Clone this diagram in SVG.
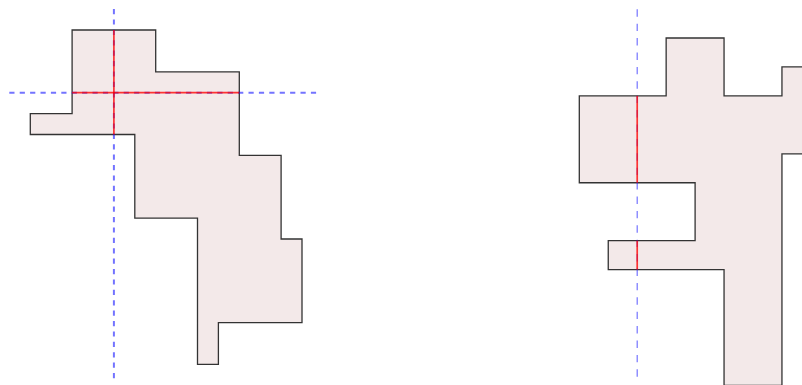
<svg xmlns="http://www.w3.org/2000/svg" width="802" height="385" viewBox="0 0 802 385">
  <style>
    .shape { fill: #f3e9e9; stroke: #333333; stroke-width: 1.3; stroke-linejoin: miter; }
    .axis { fill: none; stroke: #0000ff; stroke-opacity: 0.55; }
    .axis-l { stroke-width: 2; stroke-dasharray: 5.2 5.2; }
    .axis-r { stroke-width: 1.2; stroke-dasharray: 7.4 7; }
    .cut { fill: none; stroke: #ff0000; stroke-opacity: 0.78; stroke-width: 1.7; }
  </style>
  <rect width="802" height="385" fill="#ffffff"/>
  <g id="left-shape">
    <path class="shape" d="M72.1,30 H155.7 V71.8 H239.3 V155.4 H281.1 V239 H302 V322.6 H218.4 V364.4 H197.5 V218.1 H134.8 V134.5 H30.3 V113.6 H72.1 Z"/>
  </g>
  <g id="right-shape">
    <path class="shape" d="M579.3,95.9 H666.15 V38 H724.05 V95.9 H781.95 V66.95 H830 V153.8 H781.95 V385.4 H724.05 V269.6 H608.25 V240.65 H695.1 V182.75 H579.3 Z"/>
  </g>
  <g id="axes">
    <line class="axis axis-l" x1="113.9" y1="9" x2="113.9" y2="381"/>
    <line class="axis axis-l" x1="9.3" y1="92.7" x2="318" y2="92.7"/>
    <line class="axis axis-r" x1="637.2" y1="9.3" x2="637.2" y2="378"/>
  </g>
  <g id="cuts">
    <line class="cut" x1="72.1" y1="92.7" x2="239.3" y2="92.7"/>
    <line class="cut" x1="113.9" y1="30" x2="113.9" y2="134.5"/>
    <line class="cut" x1="637.2" y1="95.9" x2="637.2" y2="182.75"/>
    <line class="cut" x1="637.2" y1="240.65" x2="637.2" y2="269.6"/>
  </g>
</svg>
